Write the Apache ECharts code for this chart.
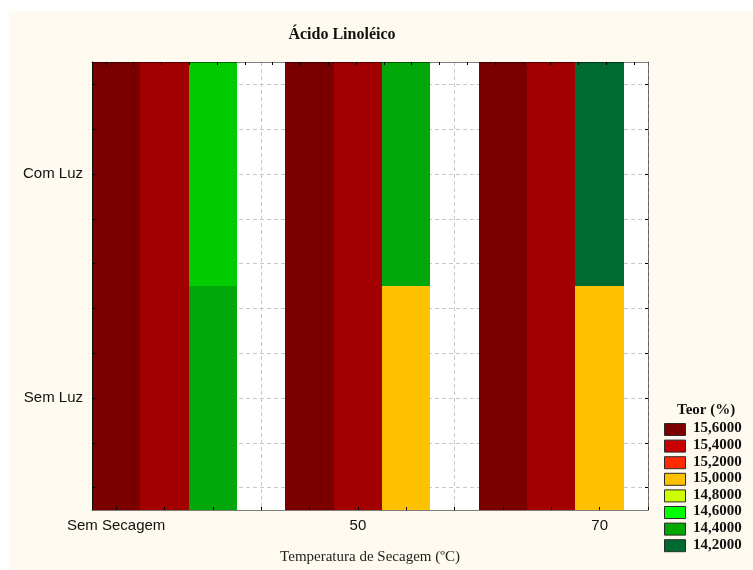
<!DOCTYPE html>
<html>
<head>
<meta charset="utf-8">
<title>Ácido Linoléico</title>
<script src="https://cdn.jsdelivr.net/npm/echarts@6/dist/echarts.min.js"></script>
<style>
  html, body { margin: 0; padding: 0; background: #ffffff; }
  #wrap { position: relative; width: 753px; height: 570px; background: #ffffff; overflow: hidden; }
  #paper { position: absolute; left: 9px; top: 11px; right: 0; bottom: 0; background: #fffaef; }
  #chart { position: absolute; left: 0; top: 0; width: 753px; height: 570px; }
</style>
</head>
<body>
<div id="wrap">
  <div id="paper"></div>
  <div id="chart"></div>
</div>
<script>
// Drying temperature groups and where each group label sits on the column index scale
const xCategories = ['Sem Secagem', '50', '70'];
const xCategoryAt = [0, 5, 10];
// Light condition rows
const yCategories = ['Sem Luz', 'Com Luz'];

// Linoleic acid content (%) per column of the contour grid; null = no colour
const teorSemLuz = [15.7, 15.5, 14.5, null, 15.7, 15.5, 15.1, null, 15.7, 15.5, 15.1, null];
const teorComLuz = [15.7, 15.5, 14.7, null, 15.7, 15.5, 14.5, null, 15.7, 15.5, 14.3, null];

// Contour levels shown in the key, highest first
const levels = [15.6, 15.4, 15.2, 15.0, 14.8, 14.6, 14.4, 14.2];
const cellColors = ['#7a0000', '#a20000', '#ff2a00', '#ffc200', '#ccff00', '#00cc00', '#00a80a', '#006b31'];
const keyColors  = ['#7d0000', '#c80000', '#ff2a00', '#ffc000', '#ccff00', '#00ff00', '#00a800', '#006b31'];

const SERIF = '"Liberation Serif", "Times New Roman", serif';
const SANS = '"Liberation Sans", Arial, sans-serif';

function levelIndex(v) {
  for (let i = 0; i < levels.length; i++) {
    if (v >= levels[i] - 1e-9) return i;
  }
  return levels.length - 1;
}

const cells = [];
teorSemLuz.forEach((v, i) => { if (v != null) cells.push([i, 0, v]); });
teorComLuz.forEach((v, i) => { if (v != null) cells.push([i, 1, v]); });

const colTicks = teorSemLuz.map((_, i) => i);
const rowTicks = [];
for (let k = -2; k <= 7; k++) rowTicks.push(+(k * 0.2).toFixed(1));
const topTicks = [];
for (let k = 0; k < 20; k++) topTicks.push(k + 0.5);

const xMin = -0.5, xMax = 11, yMin = -0.5, yMax = 1.5;
const frame = 'rgba(0,0,0,0.5)';
const gridLine = { show: true, lineStyle: { color: '#c8c8c8', type: [4, 3], width: 1 } };

// One filled cell per (column, row); edges snapped to whole pixels so neighbours join cleanly
function renderCell(params, api) {
  const x = api.value(0), y = api.value(1), v = api.value(2);
  const p0 = api.coord([x - 0.5, y + 0.5]);
  const p1 = api.coord([x + 0.5, y - 0.5]);
  const cs = params.coordSys;
  const x0 = Math.round(p0[0]), x1 = Math.round(p1[0]);
  const y0 = Math.round(p0[1]), y1 = Math.round(p1[1]);
  const shape = echarts.graphic.clipRectByRect(
    { x: x0, y: y0, width: x1 - x0, height: y1 - y0 },
    { x: cs.x, y: cs.y, width: cs.width, height: cs.height }
  );
  if (!shape) return null;
  return { type: 'rect', shape: shape, style: { fill: cellColors[levelIndex(v)] } };
}

// Colour key
const keyX = 664, keyTop = 423, keyStep = 16.6;
const keyGraphics = [{
  type: 'text', left: 677, top: 403,
  style: { text: 'Teor (%)', font: 'bold 15px ' + SERIF, fill: '#111' }
}];
levels.forEach((lv, i) => {
  keyGraphics.push({
    type: 'rect', left: keyX, top: keyTop + i * keyStep,
    shape: { width: 21, height: 12 },
    style: { fill: keyColors[i], stroke: '#2a2a2a', lineWidth: 1 }
  });
  keyGraphics.push({
    type: 'text', left: 693, top: keyTop + i * keyStep - 2,
    style: { text: lv.toFixed(4).replace('.', ','), font: 'bold 15px ' + SERIF, fill: '#111' }
  });
});

const chart = echarts.init(document.getElementById('chart'), null, { renderer: 'canvas' });
chart.setOption({
  backgroundColor: 'transparent',
  animation: false,
  title: {
    text: 'Ácido Linoléico', left: 337, top: 22, textAlign: 'center',
    textStyle: { fontFamily: SERIF, fontWeight: 'bold', fontSize: 16, color: '#111' }
  },
  grid: { left: 92, right: 105, top: 62, bottom: 60, show: true, backgroundColor: '#ffffff', borderWidth: 0 },
  xAxis: [
    { // bottom axis: labels and ticks
      type: 'value', position: 'bottom', min: xMin, max: xMax, z: 10,
      name: 'Temperatura de Secagem (ºC)', nameLocation: 'middle', nameGap: 40,
      nameTextStyle: { fontFamily: SERIF, fontSize: 15, color: '#222' },
      axisLine: { show: true, onZero: false, lineStyle: { color: frame, width: 1 } },
      axisTick: { show: true, inside: true, length: 3, customValues: colTicks, lineStyle: { color: '#000' } },
      axisLabel: {
        customValues: xCategoryAt, margin: 8,
        fontFamily: SANS, fontSize: 15, color: '#111',
        formatter: v => xCategories[xCategoryAt.indexOf(Math.round(v))] || ''
      },
      splitLine: { show: false }
    },
    { // top frame with its own fine tick marks
      type: 'value', position: 'top', min: 0, max: 20, z: 10,
      axisLine: { show: true, onZero: false, lineStyle: { color: frame, width: 1 } },
      axisTick: { show: true, inside: true, length: 3, customValues: topTicks, lineStyle: { color: '#000' } },
      axisLabel: { show: false }, splitLine: { show: false }
    },
    { // dashed vertical grid, kept beneath the cells
      type: 'value', position: 'bottom', min: xMin, max: xMax, z: 0,
      axisLine: { show: false, onZero: false },
      axisTick: { show: false, customValues: colTicks },
      axisLabel: { show: false },
      splitLine: gridLine
    }
  ],
  yAxis: [
    {
      type: 'value', position: 'left', min: yMin, max: yMax, z: 10,
      axisLine: { show: true, onZero: false, lineStyle: { color: '#111', width: 1 } },
      axisTick: { show: true, inside: true, length: 3, customValues: rowTicks, lineStyle: { color: '#000' } },
      axisLabel: {
        customValues: [0, 1], margin: 9,
        fontFamily: SANS, fontSize: 15, color: '#111',
        formatter: v => yCategories[Math.round(v)] || ''
      },
      splitLine: { show: false }
    },
    {
      type: 'value', position: 'right', min: yMin, max: yMax, z: 10,
      axisLine: { show: true, onZero: false, lineStyle: { color: frame, width: 1 } },
      axisTick: { show: true, inside: true, length: 3, customValues: rowTicks, lineStyle: { color: '#000' } },
      axisLabel: { show: false }, splitLine: { show: false }
    },
    {
      type: 'value', position: 'left', min: yMin, max: yMax, z: 0,
      axisLine: { show: false, onZero: false },
      axisTick: { show: false, customValues: rowTicks },
      axisLabel: { show: false },
      splitLine: gridLine
    }
  ],
  series: [{
    type: 'custom',
    xAxisIndex: 0, yAxisIndex: 0, z: 2,
    renderItem: renderCell,
    encode: { x: 0, y: 1 },
    data: cells
  }],
  graphic: keyGraphics
});
</script>
</body>
</html>
